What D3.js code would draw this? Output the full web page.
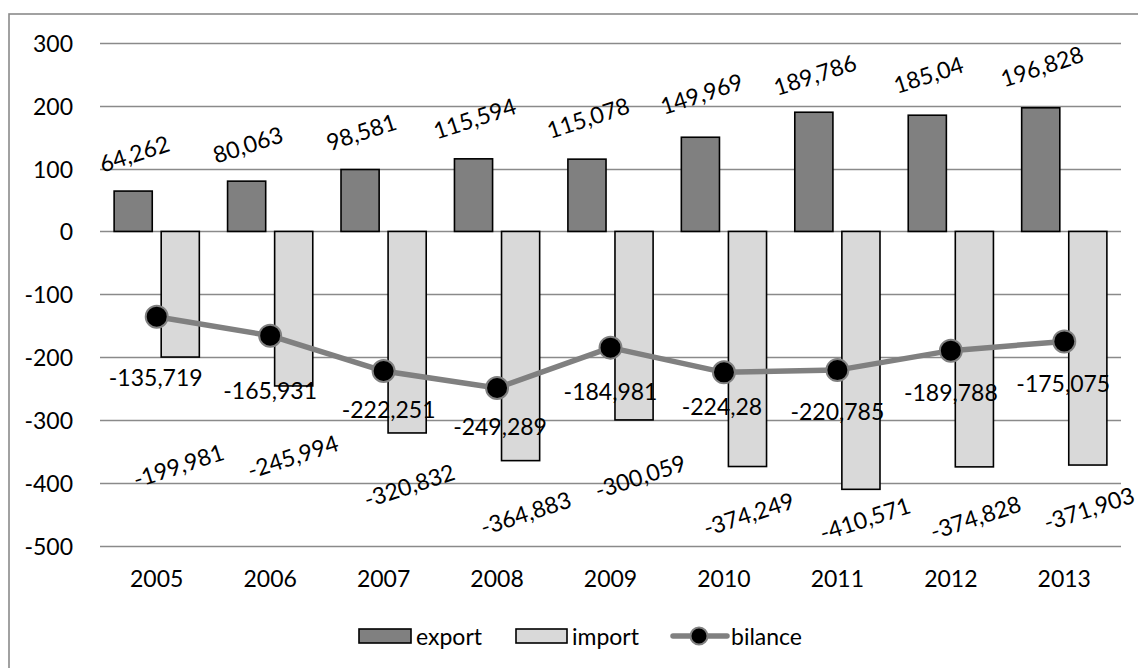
<!DOCTYPE html>
<html>
<head>
<meta charset="utf-8">
<script src="https://cdn.jsdelivr.net/npm/d3@7"></script>
<style>
  html, body { margin: 0; padding: 0; background: #fff; }
  svg { display: block; }
  text { font-family: Lato, "Open Sans", "Liberation Sans", sans-serif; fill: #000; }
</style>
</head>
<body>
<svg id="chart" width="1138" height="668"></svg>
<script>
// ---- data ----
const years = ["2005","2006","2007","2008","2009","2010","2011","2012","2013"];
const exportVals = [64.262, 80.063, 98.581, 115.594, 115.078, 149.969, 189.786, 185.04, 196.828];
const importVals = [-199.981, -245.994, -320.832, -364.883, -300.059, -374.249, -410.571, -374.828, -371.903];
const bilanceVals = [-135.719, -165.931, -222.251, -249.289, -184.981, -224.28, -220.785, -189.788, -175.075];
const exportLabels = ["64,262","80,063","98,581","115,594","115,078","149,969","189,786","185,04","196,828"];
const importLabels = ["-199,981","-245,994","-320,832","-364,883","-300,059","-374,249","-410,571","-374,828","-371,903"];
const bilanceLabels = ["-135,719","-165,931","-222,251","-249,289","-184,981","-224,28","-220,785","-189,788","-175,075"];
const yTicks = [300, 200, 100, 0, -100, -200, -300, -400, -500];
const seriesNames = ["export", "import", "bilance"];

// ---- layout (label nudges as placed in the original, in px) ----
const exportLabelLift = [38, 37, 38, 41, 42, 44, 38, 41, 42];
const importLabelDrop = [108, 70, 52, 52, 56, 47, 29, 50, 43];
const importLabelDx   = [-2, -1, 2, 5, 6, 1, 4, 1, 1];
const bilLabelDx = [-1, 0, 5, 3, 0, -2, 0, 0, -1];
const bilLabelDy = [60, 54, 38, 38, 43, 34, 41, 41, 42];

const svg = d3.select("#chart");
const FS = 23;

// border (top and left visible; cropped on right/bottom)
svg.append("rect").attr("x", 9).attr("y", 14).attr("width", 1200).attr("height", 700)
  .attr("fill", "none").attr("stroke", "#8a8a8a").attr("stroke-width", 1.6);

const x = d3.scaleBand().domain(years).range([100, 1121]).padding(0);
const x1 = d3.scaleBand().domain(["export", "import"]).range([0, x.bandwidth()])
  .paddingInner(0.19).paddingOuter(0.30);
const y = d3.scaleLinear().domain([-500, 300]).range([545.5, 43]);

// gridlines
svg.append("g").selectAll("line").data(yTicks).join("line")
  .attr("x1", 100).attr("x2", 1121)
  .attr("y1", d => Math.round(y(d)) + 0.5).attr("y2", d => Math.round(y(d)) + 0.5)
  .attr("stroke", "#8a8a8a").attr("stroke-width", 1.5);

// y axis labels
svg.append("g").selectAll("text").data(yTicks).join("text")
  .attr("x", 73).attr("y", d => y(d))
  .attr("text-anchor", "end").attr("dominant-baseline", "central")
  .style("font-size", FS + "px")
  .text(d => d);

// x axis labels
svg.append("g").selectAll("text").data(years).join("text")
  .attr("x", d => x(d) + x.bandwidth() / 2).attr("y", 578)
  .attr("text-anchor", "middle").attr("dominant-baseline", "central")
  .style("font-size", FS + "px")
  .text(d => d);

// bars
const barsG = svg.append("g");
barsG.selectAll("rect.exp").data(exportVals).join("rect").attr("class", "exp")
  .attr("x", (d, i) => x(years[i]) + x1("export"))
  .attr("width", x1.bandwidth())
  .attr("y", d => y(d)).attr("height", d => y(0) - y(d))
  .attr("fill", "#808080").attr("stroke", "#000").attr("stroke-width", 1.6);
barsG.selectAll("rect.imp").data(importVals).join("rect").attr("class", "imp")
  .attr("x", (d, i) => x(years[i]) + x1("import"))
  .attr("width", x1.bandwidth())
  .attr("y", y(0)).attr("height", d => y(d) - y(0))
  .attr("fill", "#d9d9d9").attr("stroke", "#000").attr("stroke-width", 1.6);

// bilance line
const cx = (i) => x(years[i]) + x.bandwidth() / 2;
const line = d3.line().x((d, i) => cx(i)).y(d => y(d));
svg.append("path").datum(bilanceVals).attr("d", line)
  .attr("fill", "none").attr("stroke", "#808080").attr("stroke-width", 5.5)
  .attr("stroke-linejoin", "round");
svg.append("g").selectAll("circle").data(bilanceVals).join("circle")
  .attr("cx", (d, i) => cx(i)).attr("cy", d => y(d)).attr("r", 11)
  .attr("fill", "#000").attr("stroke", "#808080").attr("stroke-width", 2);

// export labels
svg.append("g").selectAll("text").data(exportVals).join("text")
  .attr("transform", (d, i) => {
    const lx = x(years[i]) + x1("export") + x1.bandwidth() / 2 + 1;
    const ly = y(d) - exportLabelLift[i];
    return `translate(${lx},${ly}) rotate(-18)`;
  })
  .attr("text-anchor", "middle").attr("dominant-baseline", "central")
  .style("font-size", FS + "px")
  .text((d, i) => exportLabels[i]);

// import labels
svg.append("g").selectAll("text").data(importVals).join("text")
  .attr("transform", (d, i) => {
    const lx = x(years[i]) + x1("import") + x1.bandwidth() / 2 + importLabelDx[i];
    const ly = y(d) + importLabelDrop[i];
    return `translate(${lx},${ly}) rotate(-18)`;
  })
  .attr("text-anchor", "middle").attr("dominant-baseline", "central")
  .style("font-size", FS + "px")
  .text((d, i) => importLabels[i]);

// bilance labels
svg.append("g").selectAll("text").data(bilanceVals).join("text")
  .attr("x", (d, i) => cx(i) + bilLabelDx[i])
  .attr("y", (d, i) => y(d) + bilLabelDy[i])
  .attr("text-anchor", "middle").attr("dominant-baseline", "central")
  .style("font-size", FS + "px")
  .text((d, i) => bilanceLabels[i]);

// legend
const lg = svg.append("g");
const ly = 636;
lg.append("rect").attr("x", 359).attr("y", ly - 7).attr("width", 52).attr("height", 14)
  .attr("fill", "#808080").attr("stroke", "#000").attr("stroke-width", 1.6);
lg.append("text").attr("x", 416).attr("y", ly).attr("dominant-baseline", "central")
  .style("font-size", FS + "px").text(seriesNames[0]);
lg.append("rect").attr("x", 516).attr("y", ly - 7).attr("width", 51).attr("height", 14)
  .attr("fill", "#d9d9d9").attr("stroke", "#000").attr("stroke-width", 1.6);
lg.append("text").attr("x", 572).attr("y", ly).attr("dominant-baseline", "central")
  .style("font-size", FS + "px").text(seriesNames[1]);
lg.append("line").attr("x1", 673).attr("x2", 727).attr("y1", ly).attr("y2", ly)
  .attr("stroke", "#808080").attr("stroke-width", 5.5).attr("stroke-linecap", "round");
lg.append("circle").attr("cx", 699).attr("cy", ly).attr("r", 8.5)
  .attr("fill", "#000").attr("stroke", "#808080").attr("stroke-width", 2);
lg.append("text").attr("x", 731).attr("y", ly).attr("dominant-baseline", "central")
  .style("font-size", FS + "px").text(seriesNames[2]);
</script>
</body>
</html>
